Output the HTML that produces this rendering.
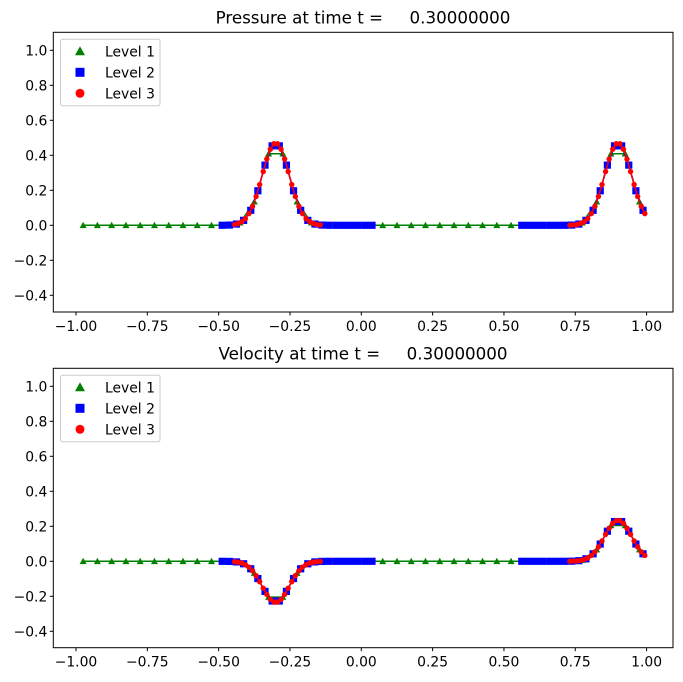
<!DOCTYPE html>
<html><head><meta charset="utf-8"><style>
body{margin:0;background:#fff}
svg{display:block;font-family:"DejaVu Sans","Liberation Sans",sans-serif}
</style></head><body>
<svg id="s" width="683" height="682" xmlns="http://www.w3.org/2000/svg"></svg>
<script>
const S=document.getElementById('s');const NS='http://www.w3.org/2000/svg';
function el(t,a,txt){const e=document.createElementNS(NS,t);for(const k in a)e.setAttribute(k,a[k]);if(txt!==undefined)e.textContent=txt;S.appendChild(e);return e;}
const L=53.3,R=673,X0=361.3,XS=285.3,YS=175;
const X=x=>X0+x*XS;
function f(x,vel){const w=0.0045;const a=0.47*Math.exp(-Math.pow(x+0.3,2)/w),b=0.47*Math.exp(-Math.pow(x-0.9,2)/w);return vel?(-a+b)/2:a+b;}
function marker(type,x,y,c,s){
 if(type=='t'){el('polygon',{points:`${x},${y-s} ${x-s},${y+s*0.8} ${x+s},${y+s*0.8}`,fill:c});}
 else if(type=='s'){el('rect',{x:x-s,y:y-s,width:2*s,height:2*s,fill:c});}
 else el('circle',{cx:x,cy:y,r:s,fill:c});
}
function panel(top,bot,y0,title,vel){
 const Y=v=>y0-v*YS;
 el('text',{x:363,y:top-9,'text-anchor':'middle','font-size':'16.7px','xml:space':'preserve',style:'white-space:pre'},title);
 let p1=[];for(let x=-0.975;x<1;x+=0.05)p1.push([x,f(x,vel)]);
 el('polyline',{points:p1.map(p=>X(p[0])+','+Y(p[1])).join(' '),fill:'none',stroke:'green','stroke-width':1.5});
 p1.forEach(p=>marker('t',X(p[0]),Y(p[1]),'green',3.5));
 let p2=[];for(let x=-0.4875;x<0.05;x+=0.025)p2.push([x,f(x,vel)]);
 let p2b=[];for(let x=0.5625;x<1;x+=0.025)p2b.push([x,f(x,vel)]);
 [p2,p2b].forEach(ps=>{el('polyline',{points:ps.map(p=>X(p[0])+','+Y(p[1])).join(' '),fill:'none',stroke:'blue','stroke-width':1.5});ps.forEach(p=>marker('s',X(p[0]),Y(p[1]),'blue',3.6));});
 let p3=[];for(let x=-0.44375;x<-0.14;x+=0.0125)p3.push([x,f(x,vel)]);
 let p3b=[];for(let x=0.73125;x<1;x+=0.0125)p3b.push([x,f(x,vel)]);
 [p3,p3b].forEach(ps=>{el('polyline',{points:ps.map(p=>X(p[0])+','+Y(p[1])).join(' '),fill:'none',stroke:'red','stroke-width':1.5});ps.forEach(p=>marker('c',X(p[0]),Y(p[1]),'red',2.7));});
 el('rect',{x:L,y:top,width:R-L,height:bot-top,fill:'none',stroke:'#000','stroke-width':1});
 for(let v=-0.4;v<=1.01;v+=0.2){const y=Y(v);el('line',{x1:L-3.5,x2:L,y1:y,y2:y,stroke:'#000'});
  el('text',{x:L-6,y:y+5,'text-anchor':'end','font-size':'13.9px'},(Math.abs(v)<1e-9?'0.0':(v<0?'\u22120'+(-v).toFixed(1).slice(1):v.toFixed(1))));}
 for(let v=-1;v<=1.001;v+=0.25){const x=X(v);el('line',{x1:x,x2:x,y1:bot,y2:bot+3.5,stroke:'#000'});
  el('text',{x:x,y:bot+19,'text-anchor':'middle','font-size':'13.9px'},(v<-1e-9?'\u2212':'')+Math.abs(v).toFixed(2));}
 el('rect',{x:60.5,y:top+7,width:99.5,height:66.5,fill:'#fff',stroke:'#ccc',rx:2});
 const ly=[top+19,top+40,top+61];
 marker('t',80,ly[0],'green',5);marker('s',80,ly[1],'blue',4.5);marker('c',80,ly[2],'red',4.5);
 ['Level 1','Level 2','Level 3'].forEach((t,i)=>el('text',{x:105,y:ly[i]+5,'font-size':'13.9px'},t));
}
panel(32.3,312,225.3,'Pressure at time t =     0.30000000',false);
panel(368.3,647.7,561.3,'Velocity at time t =     0.30000000',true);
</script>
</body></html>
